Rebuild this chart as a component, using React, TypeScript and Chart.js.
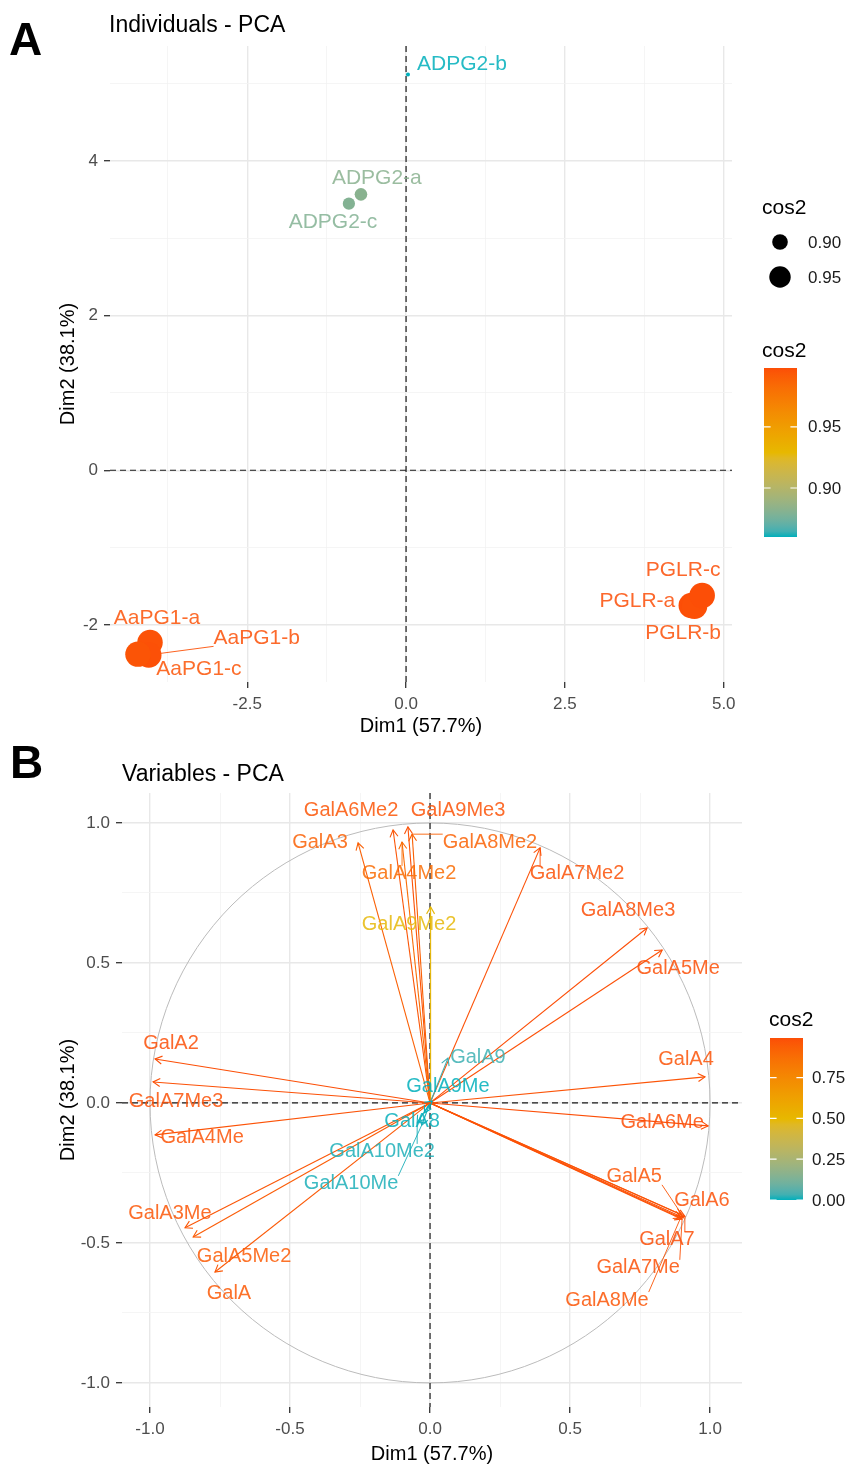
import React, { useEffect, useRef } from "react";
import { Chart, registerables } from "chart.js";

Chart.register(...registerables);

const FONT = "'Liberation Sans', Arial, Helvetica, sans-serif";

// ---------------- Panel A : individuals ----------------
const indNames = ["ADPG2-a", "ADPG2-b", "ADPG2-c", "AaPG1-a", "AaPG1-b", "AaPG1-c", "PGLR-a", "PGLR-b", "PGLR-c"];
const indDim1 = [-0.71, 0.03, -0.9, -4.03, -4.05, -4.22, 4.49, 4.54, 4.66];
const indDim2 = [3.57, 5.12, 3.45, -2.23, -2.39, -2.38, -1.75, -1.76, -1.62];
const indCos2 = [0.882, 0.86, 0.88, 0.996, 0.997, 0.995, 0.998, 0.997, 0.998];
// label anchor positions (data units, as placed by the repel algorithm)
const indLabelDim1 = [-0.46, 0.88, -1.15, -3.92, -2.35, -3.26, 3.64, 4.36, 4.36];
const indLabelDim2 = [3.78, 5.25, 3.21, -1.91, -2.17, -2.57, -1.69, -2.11, -1.29];
const indXTickValues = [-2.5, 0, 2.5, 5];
const indXTickLabels = ["-2.5", "0.0", "2.5", "5.0"];
const indYTickValues = [-2, 0, 2, 4];
const indYTickLabels = ["-2", "0", "2", "4"];
const indSizeLegendValues = [0.9, 0.95];
const indSizeLegendLabels = ["0.90", "0.95"];
const indColorLegendValues = [0.9, 0.95];
const indColorLegendLabels = ["0.90", "0.95"];

// ---------------- Panel B : variables ----------------
const varNames = [
  "GalA", "GalA2", "GalA3", "GalA4", "GalA5", "GalA6", "GalA7", "GalA8", "GalA9",
  "GalA3Me", "GalA4Me", "GalA5Me", "GalA6Me", "GalA7Me", "GalA8Me", "GalA9Me", "GalA10Me",
  "GalA4Me2", "GalA5Me2", "GalA6Me2", "GalA7Me2", "GalA8Me2", "GalA9Me2", "GalA10Me2",
  "GalA7Me3", "GalA8Me3", "GalA9Me3",
];
const varDim1 = [
  -0.768, -0.982, -0.257, 0.982, 0.9, 0.905, 0.91, -0.02, 0.064,
  -0.875, -0.982, 0.829, 0.993, 0.9, 0.895, 0.008, -0.03,
  -0.1, -0.846, -0.132, 0.393, -0.064, 0.002, -0.046,
  -0.989, 0.775, -0.079,
];
const varDim2 = [
  -0.604, 0.157, 0.929, 0.093, -0.4, -0.41, -0.405, -0.035, 0.16,
  -0.446, -0.114, 0.546, -0.082, -0.415, -0.41, 0.006, -0.08,
  0.932, -0.479, 0.975, 0.911, 0.96, 0.7, -0.071,
  0.075, 0.625, 0.986,
];
const varLabelDim1 = [
  -0.718, -0.925, -0.393, 0.914, 0.729, 0.971, 0.846, -0.064, 0.171,
  -0.929, -0.814, 0.886, 0.829, 0.743, 0.632, 0.064, -0.282,
  -0.075, -0.664, -0.282, 0.525, 0.214, -0.075, -0.171,
  -0.907, 0.707, 0.1,
];
const varLabelDim2 = [
  -0.679, 0.214, 0.929, 0.154, -0.264, -0.35, -0.489, -0.068, 0.164,
  -0.396, -0.125, 0.479, -0.071, -0.589, -0.704, 0.057, -0.289,
  0.818, -0.55, 1.043, 0.818, 0.932, 0.636, -0.175,
  0.004, 0.686, 1.043,
];
const varTickValues = [-1, -0.5, 0, 0.5, 1];
const varTickLabels = ["-1.0", "-0.5", "0.0", "0.5", "1.0"];
const varColorLegendValues = [0, 0.25, 0.5, 0.75];
const varColorLegendLabels = ["0.00", "0.25", "0.50", "0.75"];

const gradientColors = ["#00AFBB", "#E7B800", "#FC4E07"];

// ---------------- colour helpers (Lab interpolation like ggplot) ----------------
function hex2rgb(h: string) {
  return [parseInt(h.slice(1, 3), 16), parseInt(h.slice(3, 5), 16), parseInt(h.slice(5, 7), 16)];
}
function s2l(c: number) {
  c /= 255;
  return c <= 0.04045 ? c / 12.92 : Math.pow((c + 0.055) / 1.055, 2.4);
}
function l2s(c: number) {
  const v = c <= 0.0031308 ? 12.92 * c : 1.055 * Math.pow(c, 1 / 2.4) - 0.055;
  return Math.round(Math.max(0, Math.min(1, v)) * 255);
}
function rgb2lab(rgb: number[]) {
  const R = s2l(rgb[0]), G = s2l(rgb[1]), B = s2l(rgb[2]);
  const X = (0.4124 * R + 0.3576 * G + 0.1805 * B) / 0.95047;
  const Y = 0.2126 * R + 0.7152 * G + 0.0722 * B;
  const Z = (0.0193 * R + 0.1192 * G + 0.9505 * B) / 1.08883;
  const f = (t: number) => (t > 0.008856 ? Math.cbrt(t) : 7.787 * t + 16 / 116);
  const fx = f(X), fy = f(Y), fz = f(Z);
  return [116 * fy - 16, 500 * (fx - fy), 200 * (fy - fz)];
}
function lab2rgb(lab: number[]) {
  const fy = (lab[0] + 16) / 116, fx = fy + lab[1] / 500, fz = fy - lab[2] / 200;
  const inv = (t: number) => (t * t * t > 0.008856 ? t * t * t : (t - 16 / 116) / 7.787);
  const X = inv(fx) * 0.95047, Y = inv(fy), Z = inv(fz) * 1.08883;
  const R = 3.2406 * X - 1.5372 * Y - 0.4986 * Z;
  const G = -0.9689 * X + 1.8758 * Y + 0.0415 * Z;
  const B = 0.0557 * X - 0.204 * Y + 1.057 * Z;
  return [l2s(R), l2s(G), l2s(B)];
}
const gradLab = gradientColors.map((c) => rgb2lab(hex2rgb(c)));
function colorAt(t: number) {
  t = Math.max(0, Math.min(1, t));
  const seg = t * (gradLab.length - 1);
  const i = Math.min(gradLab.length - 2, Math.floor(seg));
  const f = seg - i;
  const lab = gradLab[i].map((v, k) => v + (gradLab[i + 1][k] - v) * f);
  const c = lab2rgb(lab);
  return `rgb(${c[0]},${c[1]},${c[2]})`;
}

// ---------------- shared helpers ----------------
const near = (a: number, b: number) => Math.abs(a - b) < 1e-6;
const isIn = (v: number, arr: number[]) => arr.some((a) => near(a, v));
function labelFor(v: number, vals: number[], labs: string[]) {
  const i = vals.findIndex((a) => near(a, v));
  return i >= 0 ? labs[i] : "";
}
function axisCommon(majors: number[], labels: string[], step: number, min: number, max: number, fixed: number, isX: boolean, title: string) {
  return {
    type: "linear" as const,
    min,
    max,
    afterFit: (scale: any) => {
      if (isX) scale.height = fixed;
      else scale.width = fixed;
    },
    ticks: {
      stepSize: step,
      includeBounds: false,
      autoSkip: false,
      maxRotation: 0,
      padding: 6,
      color: "#4D4D4D",
      font: { family: FONT, size: 17 },
      callback: (v: any) => labelFor(Number(v), majors, labels),
    },
    grid: {
      color: (c: any) => (c.tick && isIn(c.tick.value, majors) ? "#E8E8E8" : "#F3F3F3"),
      lineWidth: (c: any) => (c.tick && isIn(c.tick.value, majors) ? 1.4 : 0.8),
      tickColor: (c: any) => (c.tick && isIn(c.tick.value, majors) ? "#333333" : "rgba(0,0,0,0)"),
      tickWidth: 1.3,
      tickLength: 6,
      drawTicks: true,
    },
    border: { display: false },
    title: {
      display: true,
      text: title,
      color: "#000",
      font: { family: FONT, size: 20, lineHeight: 1 },
      padding: isX ? { top: 0, bottom: 4 } : { top: 8, bottom: 0 },
    },
  };
}

function drawDashedZero(chart: any) {
  const { ctx, chartArea: a, scales } = chart;
  const x0 = scales.x.getPixelForValue(0);
  const y0 = scales.y.getPixelForValue(0);
  ctx.save();
  ctx.strokeStyle = "#1a1a1a";
  ctx.lineWidth = 1.2;
  ctx.setLineDash([6, 4]);
  ctx.beginPath();
  ctx.moveTo(x0, a.top);
  ctx.lineTo(x0, a.bottom);
  ctx.moveTo(a.left, y0);
  ctx.lineTo(a.right, y0);
  ctx.stroke();
  ctx.restore();
}

function segmentToLabel(ctx: CanvasRenderingContext2D, text: string, lx: number, ly: number, px: number, py: number, size: number, minGap: number, color: string) {
  const w = ctx.measureText(text).width;
  const h = size * 0.8;
  const cx = Math.max(lx - w / 2, Math.min(px, lx + w / 2));
  const cy = Math.max(ly - h / 2, Math.min(py, ly + h / 2));
  const d = Math.hypot(px - cx, py - cy);
  if (d > minGap) {
    ctx.strokeStyle = color;
    ctx.lineWidth = 0.9;
    ctx.beginPath();
    ctx.moveTo(cx, cy);
    ctx.lineTo(px, py);
    ctx.stroke();
  }
}

function drawColorBar(ctx: CanvasRenderingContext2D, x: number, top: number, w: number, bottom: number, dmin: number, dmax: number, vals: number[], labs: string[], labelX: number) {
  const g = ctx.createLinearGradient(0, bottom, 0, top);
  for (let k = 0; k <= 30; k++) g.addColorStop(k / 30, colorAt(k / 30));
  ctx.fillStyle = g;
  ctx.fillRect(x, top, w, bottom - top);
  ctx.font = `17px ${FONT}`;
  ctx.textAlign = "left";
  ctx.textBaseline = "middle";
  vals.forEach((v, i) => {
    if (v < dmin - 0.006 || v > dmax + 0.006) return;
    const yy = bottom - ((v - dmin) / (dmax - dmin)) * (bottom - top);
    ctx.strokeStyle = "#ffffff";
    ctx.lineWidth = 1.2;
    ctx.beginPath();
    ctx.moveTo(x, yy);
    ctx.lineTo(x + w * 0.2, yy);
    ctx.moveTo(x + w * 0.8, yy);
    ctx.lineTo(x + w, yy);
    ctx.stroke();
    ctx.fillStyle = "#1a1a1a";
    ctx.fillText(labs[i], labelX, yy + 1);
  });
}

// ---------------- Panel A config ----------------
const aMin = Math.min(...indCos2);
const aMax = Math.max(...indCos2);
const aT = (v: number) => (v - aMin) / (aMax - aMin);
const aColor = (v: number) => colorAt(aT(v));
const aRadius = (v: number) => 2 + 10.8 * Math.sqrt(Math.max(0, aT(v)));

function configA(): any {
  const plugin = {
    id: "panelA",
    beforeDatasetsDraw(chart: any) {
      drawDashedZero(chart);
      const { ctx, scales } = chart;
      ctx.save();
      ctx.font = `21px ${FONT}`;
      indNames.forEach((n, i) => {
        const px = scales.x.getPixelForValue(indDim1[i]);
        const py = scales.y.getPixelForValue(indDim2[i]);
        const lx = scales.x.getPixelForValue(indLabelDim1[i]);
        const ly = scales.y.getPixelForValue(indLabelDim2[i]);
        segmentToLabel(ctx, n, lx, ly, px, py, 21, aRadius(indCos2[i]) + 10, aColor(indCos2[i]));
      });
      ctx.restore();
    },
    afterDatasetsDraw(chart: any) {
      const { ctx, scales } = chart;
      ctx.save();
      ctx.font = `21px ${FONT}`;
      ctx.textAlign = "center";
      ctx.textBaseline = "middle";
      indNames.forEach((n, i) => {
        ctx.fillStyle = aColor(indCos2[i]);
        ctx.globalAlpha = 0.85;
        ctx.fillText(n, scales.x.getPixelForValue(indLabelDim1[i]), scales.y.getPixelForValue(indLabelDim2[i]));
      });
      ctx.restore();
    },
    afterDraw(chart: any) {
      const { ctx, chartArea: a } = chart;
      ctx.save();
      ctx.fillStyle = "#000";
      ctx.textBaseline = "alphabetic";
      ctx.textAlign = "left";
      ctx.font = `bold 46px ${FONT}`;
      ctx.fillText("A", 9, 55);
      ctx.font = `23px ${FONT}`;
      ctx.fillText("Individuals - PCA", a.left - 1, 32);
      // size legend
      ctx.font = `21px ${FONT}`;
      ctx.fillText("cos2", 762, 214);
      ctx.font = `17px ${FONT}`;
      ctx.textBaseline = "middle";
      indSizeLegendValues.forEach((v, i) => {
        const yy = 242 + i * 35;
        ctx.fillStyle = "#000";
        ctx.beginPath();
        ctx.arc(780, yy, aRadius(v), 0, Math.PI * 2);
        ctx.fill();
        ctx.fillStyle = "#1a1a1a";
        ctx.fillText(indSizeLegendLabels[i], 808, yy + 1);
      });
      // colour legend
      ctx.textBaseline = "alphabetic";
      ctx.fillStyle = "#000";
      ctx.font = `21px ${FONT}`;
      ctx.fillText("cos2", 762, 357);
      drawColorBar(ctx, 764, 368, 33, 537, aMin, aMax, indColorLegendValues, indColorLegendLabels, 808);
      ctx.restore();
    },
  };
  return {
    type: "scatter",
    data: {
      datasets: [
        {
          data: indNames.map((_, i) => ({ x: indDim1[i], y: indDim2[i] })),
          pointRadius: indCos2.map((v) => aRadius(v)),
          pointBackgroundColor: indCos2.map((v) => aColor(v)),
          pointBorderWidth: 0,
          pointBorderColor: "rgba(0,0,0,0)",
        },
      ],
    },
    options: {
      responsive: false,
      animation: false,
      devicePixelRatio: 1,
      layout: { padding: { left: 50, right: 117, top: 46, bottom: 0 } },
      plugins: { legend: { display: false }, tooltip: { enabled: false } },
      scales: {
        x: axisCommon(indXTickValues, indXTickLabels, 1.25, -4.66, 5.13, 58, true, "Dim1 (57.7%)"),
        y: axisCommon(indYTickValues, indYTickLabels, 1, -2.74, 5.49, 60, false, "Dim2 (38.1%)"),
      },
    },
    plugins: [plugin],
  };
}

// ---------------- Panel B config ----------------
const varCos2 = varNames.map((_, i) => varDim1[i] * varDim1[i] + varDim2[i] * varDim2[i]);
const bMin = Math.min(...varCos2);
const bMax = Math.max(...varCos2);
const bColor = (v: number) => colorAt((v - bMin) / (bMax - bMin));

function configB(): any {
  const plugin = {
    id: "panelB",
    beforeDatasetsDraw(chart: any) {
      const { ctx, scales } = chart;
      const x0 = scales.x.getPixelForValue(0);
      const y0 = scales.y.getPixelForValue(0);
      const rx = scales.x.getPixelForValue(1) - x0;
      const ry = y0 - scales.y.getPixelForValue(1);
      ctx.save();
      ctx.strokeStyle = "#BBBBBB";
      ctx.lineWidth = 1;
      ctx.beginPath();
      ctx.ellipse(x0, y0, rx, ry, 0, 0, Math.PI * 2);
      ctx.stroke();
      ctx.restore();
      drawDashedZero(chart);
    },
    afterDatasetsDraw(chart: any) {
      const { ctx, scales } = chart;
      const x0 = scales.x.getPixelForValue(0);
      const y0 = scales.y.getPixelForValue(0);
      ctx.save();
      // arrow heads
      varNames.forEach((_, i) => {
        const tx = scales.x.getPixelForValue(varDim1[i]);
        const ty = scales.y.getPixelForValue(varDim2[i]);
        const ang = Math.atan2(ty - y0, tx - x0);
        const L = 8;
        ctx.strokeStyle = bColor(varCos2[i]);
        ctx.lineWidth = 1.1;
        ctx.beginPath();
        ctx.moveTo(tx - L * Math.cos(ang - Math.PI / 6), ty - L * Math.sin(ang - Math.PI / 6));
        ctx.lineTo(tx, ty);
        ctx.lineTo(tx - L * Math.cos(ang + Math.PI / 6), ty - L * Math.sin(ang + Math.PI / 6));
        ctx.stroke();
      });
      // label segments + labels
      ctx.font = `20px ${FONT}`;
      varNames.forEach((n, i) => {
        const tx = scales.x.getPixelForValue(varDim1[i]);
        const ty = scales.y.getPixelForValue(varDim2[i]);
        const lx = scales.x.getPixelForValue(varLabelDim1[i]);
        const ly = scales.y.getPixelForValue(varLabelDim2[i]);
        segmentToLabel(ctx, n, lx, ly, tx, ty, 20, 14, bColor(varCos2[i]));
      });
      ctx.textAlign = "center";
      ctx.textBaseline = "middle";
      varNames.forEach((n, i) => {
        ctx.fillStyle = bColor(varCos2[i]);
        ctx.globalAlpha = 0.85;
        ctx.fillText(n, scales.x.getPixelForValue(varLabelDim1[i]), scales.y.getPixelForValue(varLabelDim2[i]));
      });
      ctx.restore();
    },
    afterDraw(chart: any) {
      const { ctx, chartArea: a } = chart;
      ctx.save();
      ctx.fillStyle = "#000";
      ctx.textAlign = "left";
      ctx.textBaseline = "alphabetic";
      ctx.font = `bold 46px ${FONT}`;
      ctx.fillText("B", 10, 38);
      ctx.font = `23px ${FONT}`;
      ctx.fillText("Variables - PCA", a.left, 41);
      ctx.font = `21px ${FONT}`;
      ctx.fillText("cos2", 769, 286);
      drawColorBar(ctx, 770, 298, 33, 460, bMin, bMax, varColorLegendValues, varColorLegendLabels, 812);
      ctx.restore();
    },
  };
  return {
    type: "scatter",
    data: {
      datasets: varNames.map((n, i) => ({
        label: n,
        data: [
          { x: 0, y: 0 },
          { x: varDim1[i], y: varDim2[i] },
        ],
        showLine: true,
        borderColor: bColor(varCos2[i]),
        borderWidth: 1.1,
        pointRadius: 0,
        fill: false,
      })),
    },
    options: {
      responsive: false,
      animation: false,
      devicePixelRatio: 1,
      layout: { padding: { left: 50, right: 107, top: 53, bottom: 0 } },
      plugins: { legend: { display: false }, tooltip: { enabled: false } },
      scales: {
        x: axisCommon(varTickValues, varTickLabels, 0.25, -1.1, 1.114, 61, true, "Dim1 (57.7%)"),
        y: axisCommon(varTickValues, varTickLabels, 0.25, -1.086, 1.107, 72, false, "Dim2 (38.1%)"),
      },
    },
    plugins: [plugin],
  };
}

export default function App() {
  const refA = useRef<HTMLCanvasElement>(null);
  const refB = useRef<HTMLCanvasElement>(null);
  useEffect(() => {
    const ca = new Chart(refA.current as HTMLCanvasElement, configA());
    const cb = new Chart(refB.current as HTMLCanvasElement, configB());
    return () => {
      ca.destroy();
      cb.destroy();
    };
  }, []);
  return (
    <div style={{ position: "absolute", left: 0, top: 0, width: 849, height: 1468, background: "#ffffff" }}>
      <canvas ref={refA} width={849} height={740} style={{ position: "absolute", left: 0, top: 0, width: 849, height: 740 }} />
      <canvas ref={refB} width={849} height={728} style={{ position: "absolute", left: 0, top: 740, width: 849, height: 728 }} />
    </div>
  );
}
